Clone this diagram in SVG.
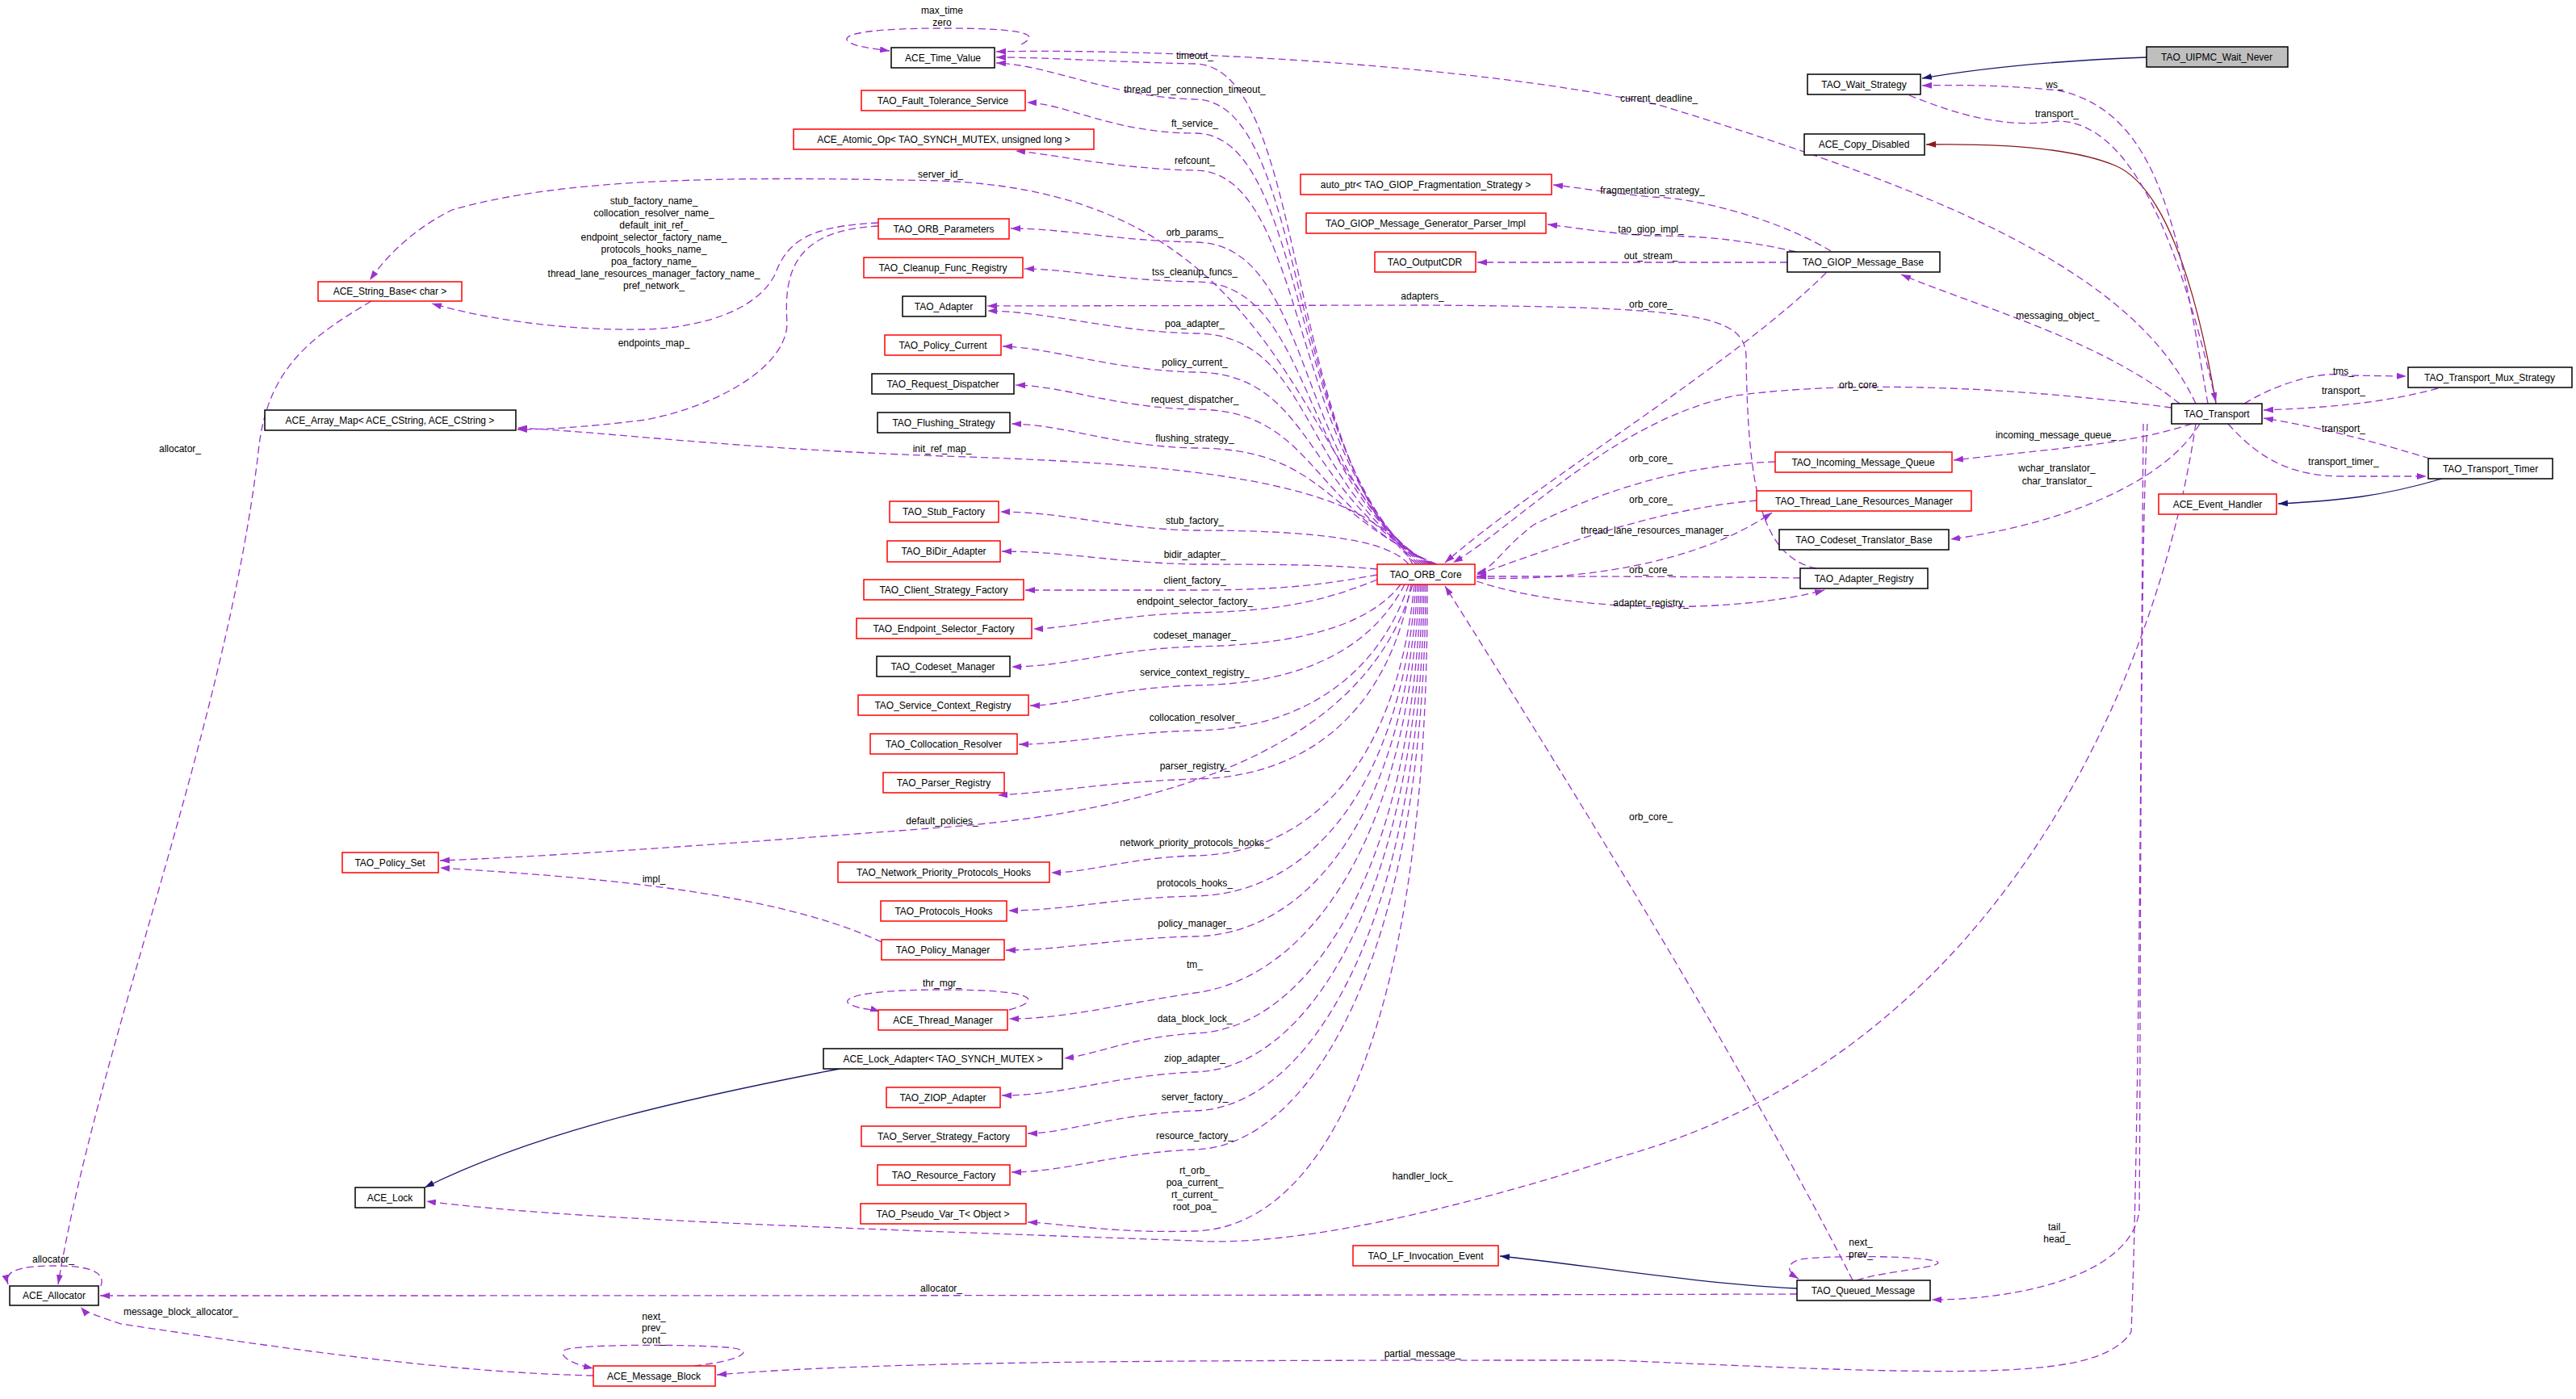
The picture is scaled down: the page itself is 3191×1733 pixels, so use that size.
<svg xmlns="http://www.w3.org/2000/svg" width="3191" height="1733" viewBox="0 0 3191 1733">
<style>
text{font-family:"Liberation Sans",Arial,sans-serif;font-size:12px;fill:#000;text-anchor:middle}
.n rect{fill:#fff;stroke-width:1.5}
.r rect{stroke:#ff0000}
.b rect{stroke:#000}
.g rect{fill:#bfbfbf;stroke:#000}
.e path{fill:none}
.d{stroke:#9a32cd;stroke-width:1.3;stroke-dasharray:9,5;marker-end:url(#ap)}
.nv{stroke:#191970;stroke-width:1.3;marker-end:url(#an)}
.dr{stroke:#8b1a1a;stroke-width:1.3;marker-end:url(#ar)}
</style>
<defs>
<marker id="ap" viewBox="0 0 12 8" refX="12" refY="4" markerWidth="12" markerHeight="8" markerUnits="userSpaceOnUse" orient="auto"><path d="M0,0 L12,4 L0,8 z" fill="#9a32cd"/></marker>
<marker id="an" viewBox="0 0 12 8" refX="12" refY="4" markerWidth="12" markerHeight="8" markerUnits="userSpaceOnUse" orient="auto"><path d="M0,0 L12,4 L0,8 z" fill="#191970"/></marker>
<marker id="ar" viewBox="0 0 12 8" refX="12" refY="4" markerWidth="12" markerHeight="8" markerUnits="userSpaceOnUse" orient="auto"><path d="M0,0 L12,4 L0,8 z" fill="#8b1a1a"/></marker>
</defs>
<rect width="3191" height="1733" fill="#fff"/>
<g id="edges" class="e">
<path class="nv" d="M2659,71 C2550,75 2450,85 2381,97"/>
<path class="dr" d="M2745,500 C2720,350 2680,230 2620,205 C2560,180 2450,178 2386,179"/>
<path class="d" d="M2735,500 C2700,300 2680,140 2550,112 C2480,105 2420,105 2381,106"/>
<path class="d" d="M2365,118 C2420,140 2480,160 2548,150 C2640,150 2700,300 2745,498"/>
<path class="d" d="M2720,500 C2650,350 2450,250 2055,130 C1800,75 1400,60 1234,64"/>
<path class="d" d="M2700,500 C2600,420 2450,380 2355,340"/>
<path class="d" d="M2780,500 C2830,470 2880,460 2903,465 L2981,466"/>
<path class="d" d="M3020,481 C2950,500 2880,505 2804,508"/>
<path class="d" d="M3010,568 C2950,550 2880,530 2804,518"/>
<path class="d" d="M2760,525 C2800,570 2840,590 2903,590 L3006,590"/>
<path class="nv" d="M3025,593 C2950,615 2900,620 2822,624"/>
<path class="d" d="M2715,525 C2640,550 2550,555 2420,570"/>
<path class="d" d="M2725,525 C2680,600 2550,650 2416,668"/>
<path class="d" d="M2690,505 C2500,480 2300,470 2150,490 C2000,520 1880,650 1800,697"/>
<path class="d" d="M2262,338 C2150,450 1900,600 1790,697"/>
<path class="d" d="M2199,572 C2100,575 2000,600 1900,650 C1860,680 1850,705 1829,710"/>
<path class="d" d="M2176,620 C2050,630 1920,680 1829,712"/>
<path class="d" d="M1829,716 C1950,720 2100,700 2195,635"/>
<path class="d" d="M2230,716 C2100,714 1950,714 1829,714"/>
<path class="d" d="M1829,720 C1950,760 2150,760 2260,731"/>
<path class="d" d="M2250,704 C2180,690 2165,600 2163,440 C2160,390 2100,380 1762,378 L1223,379"/>
<path class="d" d="M2295,1586 C2150,1300 1900,900 1790,726"/>
<path class="d" d="M2720,525 C2680,800 2500,1300 2000,1435 C1800,1500 1600,1545 1478,1537 C1000,1520 700,1510 528,1488"/>
<path class="d" d="M2660,525 C2650,700 2652,1300 2650,1500 C2640,1580 2500,1610 2393,1610"/>
<path class="d" d="M2655,525 C2652,900 2650,1400 2640,1650 C2600,1710 2450,1705 2000,1685 C1500,1685 1100,1685 888,1703"/>
<path class="d" d="M2226,1603 C1500,1605 800,1605 124,1605"/>
<path class="nv" d="M2226,1596 C2100,1590 1950,1565 1858,1556"/>
<path class="d" d="M2300,1586 C2330,1575 2410,1570 2400,1563 C2380,1555 2260,1555 2230,1560 C2210,1566 2215,1576 2228,1584"/>
<path class="d" d="M735,1704 C550,1700 350,1670 150,1640 C120,1630 105,1625 100,1619"/>
<path class="d" d="M860,1692 C920,1685 940,1672 900,1669 C850,1665 720,1665 700,1672 C690,1680 710,1690 735,1695"/>
<path class="nv" d="M1040,1324 C800,1370 650,1410 526,1471"/>
<path class="d" d="M1092,1167 C950,1100 700,1085 545,1075"/>
<path class="d" d="M125,1593 C130,1580 120,1568 70,1568 C20,1568 5,1575 10,1591"/>
<path class="d" d="M460,373 C380,420 330,460 320,560 C280,900 120,1300 72,1591"/>
<path class="d" d="M1088,276 C1000,280 975,300 960,340 C940,380 880,405 800,408 C700,410 600,395 535,376"/>
<path class="d" d="M1088,280 C990,285 970,330 975,400 C975,450 900,500 800,520 C720,530 670,532 641,532"/>
<path class="d" d="M2268,311 C2200,270 2100,245 2047,244 C2000,240 1960,233 1924,229"/>
<path class="d" d="M2225,312 C2150,295 2100,292 2045,292 C2000,290 1950,282 1917,278"/>
<path class="d" d="M2214,325 L1830,325"/>
<path class="d" d="M1265,55 C1290,42 1270,35 1167,35 C1060,35 1040,45 1052,52 C1060,58 1080,60 1102,63"/>
<path class="d" d="M1250,1251 C1290,1240 1290,1226 1167,1226 C1050,1226 1040,1240 1055,1245 C1065,1250 1080,1250 1090,1253"/>
<path class="d" d="M1755,699 C1590,560 1620,81 1480,79 C1380,77 1300,71 1234,71"/>
<path class="d" d="M1758,699 C1592,560 1620,123 1480,123 C1380,121 1300,80 1234,78"/>
<path class="d" d="M1761,699 C1594,560 1620,165 1480,165 C1380,165 1320,128 1272,127"/>
<path class="d" d="M1764,699 C1596,570 1620,211 1480,211 C1380,209 1300,190 1258,187"/>
<path class="d" d="M1767,699 C1600,580 1600,240 1165,224 C900,218 700,220 560,260 C500,290 470,330 458,347"/>
<path class="d" d="M1770,699 C1600,590 1630,300 1480,300 C1380,298 1320,283 1252,283"/>
<path class="d" d="M1772,699 C1605,600 1630,349 1480,349 C1380,347 1320,333 1269,333"/>
<path class="d" d="M1774,699 C1610,610 1630,413 1480,413 C1380,411 1300,386 1223,385"/>
<path class="d" d="M1776,699 C1615,620 1630,461 1480,461 C1380,459 1300,430 1242,429"/>
<path class="d" d="M1778,699 C1620,630 1630,507 1480,507 C1380,505 1320,478 1258,477"/>
<path class="d" d="M1780,699 C1640,640 1640,555 1480,555 C1380,553 1320,526 1253,525"/>
<path class="d" d="M1750,699 C1700,600 1500,575 1167,565 C900,555 750,535 641,530"/>
<path class="d" d="M1745,699 C1720,670 1640,657 1480,657 C1380,655 1320,634 1239,634"/>
<path class="d" d="M1706,705 C1650,700 1600,699 1480,699 C1380,697 1320,683 1241,683"/>
<path class="d" d="M1706,712 C1650,722 1600,731 1480,731 C1400,731 1320,731 1270,731"/>
<path class="d" d="M1706,718 C1650,740 1600,757 1480,759 C1380,762 1320,779 1280,779"/>
<path class="d" d="M1735,724 C1700,770 1620,799 1480,801 C1380,804 1320,826 1253,826"/>
<path class="d" d="M1740,724 C1700,800 1620,847 1480,849 C1380,852 1320,874 1276,874"/>
<path class="d" d="M1745,724 C1710,830 1620,903 1480,905 C1380,908 1320,922 1262,922"/>
<path class="d" d="M1748,724 C1720,880 1620,963 1480,965 C1380,968 1300,982 1236,985"/>
<path class="d" d="M1750,724 C1700,900 1500,1000 1167,1025 C900,1045 700,1060 545,1066"/>
<path class="d" d="M1752,724 C1730,950 1620,1058 1480,1060 C1400,1062 1350,1081 1302,1081"/>
<path class="d" d="M1754,724 C1735,980 1620,1108 1480,1110 C1380,1112 1320,1128 1249,1128"/>
<path class="d" d="M1756,724 C1740,1010 1620,1158 1480,1160 C1380,1162 1320,1177 1246,1177"/>
<path class="d" d="M1758,724 C1745,1040 1620,1212 1480,1230 C1380,1245 1320,1262 1250,1262"/>
<path class="d" d="M1760,724 C1750,1080 1620,1276 1480,1280 C1400,1285 1360,1306 1318,1311"/>
<path class="d" d="M1762,724 C1755,1110 1620,1325 1480,1328 C1380,1332 1320,1357 1241,1357"/>
<path class="d" d="M1764,724 C1760,1150 1620,1373 1480,1376 C1380,1380 1320,1404 1273,1404"/>
<path class="d" d="M1766,724 C1765,1190 1620,1421 1480,1424 C1380,1428 1320,1452 1253,1452"/>
<path class="d" d="M1768,724 C1770,1250 1650,1520 1480,1525 C1380,1528 1320,1516 1273,1514"/>
</g>
<g id="n1" class="n g"><rect x="2659" y="58" width="175" height="25"/><text x="2746" y="75">TAO_UIPMC_Wait_Never</text></g>
<g id="n2" class="n b"><rect x="2239" y="92" width="140" height="25"/><text x="2309" y="109">TAO_Wait_Strategy</text></g>
<g id="n3" class="n b"><rect x="2235" y="166" width="149" height="26"/><text x="2309" y="183">ACE_Copy_Disabled</text></g>
<g id="n4" class="n b"><rect x="1104" y="59" width="128" height="25"/><text x="1168" y="76">ACE_Time_Value</text></g>
<g id="n5" class="n r"><rect x="1067" y="112" width="203" height="25"/><text x="1168" y="129">TAO_Fault_Tolerance_Service</text></g>
<g id="n6" class="n r"><rect x="983" y="160" width="372" height="25"/><text x="1169" y="177">ACE_Atomic_Op&lt; TAO_SYNCH_MUTEX, unsigned long &gt;</text></g>
<g id="n7" class="n r"><rect x="1611" y="216" width="311" height="25"/><text x="1766" y="233">auto_ptr&lt; TAO_GIOP_Fragmentation_Strategy &gt;</text></g>
<g id="n8" class="n r"><rect x="1618" y="264" width="297" height="25"/><text x="1766" y="281">TAO_GIOP_Message_Generator_Parser_Impl</text></g>
<g id="n9" class="n r"><rect x="1703" y="312" width="125" height="25"/><text x="1765" y="329">TAO_OutputCDR</text></g>
<g id="n10" class="n b"><rect x="2214" y="312" width="189" height="25"/><text x="2308" y="329">TAO_GIOP_Message_Base</text></g>
<g id="n11" class="n r"><rect x="1088" y="271" width="162" height="25"/><text x="1169" y="288">TAO_ORB_Parameters</text></g>
<g id="n12" class="n r"><rect x="394" y="349" width="178" height="24"/><text x="483" y="365">ACE_String_Base&lt; char &gt;</text></g>
<g id="n13" class="n r"><rect x="1070" y="319" width="197" height="25"/><text x="1168" y="336">TAO_Cleanup_Func_Registry</text></g>
<g id="n14" class="n b"><rect x="1118" y="367" width="103" height="25"/><text x="1169" y="384">TAO_Adapter</text></g>
<g id="n15" class="n r"><rect x="1096" y="415" width="144" height="25"/><text x="1168" y="432">TAO_Policy_Current</text></g>
<g id="n16" class="n b"><rect x="1080" y="463" width="176" height="25"/><text x="1168" y="480">TAO_Request_Dispatcher</text></g>
<g id="n17" class="n b"><rect x="1087" y="511" width="164" height="25"/><text x="1169" y="528">TAO_Flushing_Strategy</text></g>
<g id="n18" class="n b"><rect x="328" y="508" width="311" height="25"/><text x="483" y="525">ACE_Array_Map&lt; ACE_CString, ACE_CString &gt;</text></g>
<g id="n19" class="n b"><rect x="2690" y="500" width="112" height="25"/><text x="2746" y="517">TAO_Transport</text></g>
<g id="n20" class="n b"><rect x="2983" y="455" width="203" height="25"/><text x="3084" y="472">TAO_Transport_Mux_Strategy</text></g>
<g id="n21" class="n b"><rect x="3008" y="568" width="154" height="25"/><text x="3085" y="585">TAO_Transport_Timer</text></g>
<g id="n22" class="n r"><rect x="2674" y="612" width="146" height="25"/><text x="2747" y="629">ACE_Event_Handler</text></g>
<g id="n23" class="n r"><rect x="2199" y="560" width="219" height="25"/><text x="2308" y="577">TAO_Incoming_Message_Queue</text></g>
<g id="n24" class="n r"><rect x="2176" y="608" width="266" height="25"/><text x="2309" y="625">TAO_Thread_Lane_Resources_Manager</text></g>
<g id="n25" class="n b"><rect x="2204" y="656" width="210" height="25"/><text x="2309" y="673">TAO_Codeset_Translator_Base</text></g>
<g id="n26" class="n b"><rect x="2230" y="704" width="158" height="25"/><text x="2309" y="721">TAO_Adapter_Registry</text></g>
<g id="n27" class="n r"><rect x="1102" y="621" width="135" height="26"/><text x="1169" y="638">TAO_Stub_Factory</text></g>
<g id="n28" class="n r"><rect x="1099" y="670" width="140" height="26"/><text x="1169" y="687">TAO_BiDir_Adapter</text></g>
<g id="n29" class="n r"><rect x="1070" y="718" width="198" height="25"/><text x="1169" y="735">TAO_Client_Strategy_Factory</text></g>
<g id="n30" class="n r"><rect x="1061" y="766" width="217" height="25"/><text x="1169" y="783">TAO_Endpoint_Selector_Factory</text></g>
<g id="n31" class="n b"><rect x="1086" y="813" width="165" height="25"/><text x="1168" y="830">TAO_Codeset_Manager</text></g>
<g id="n32" class="n r"><rect x="1063" y="861" width="211" height="25"/><text x="1168" y="878">TAO_Service_Context_Registry</text></g>
<g id="n33" class="n r"><rect x="1078" y="909" width="182" height="25"/><text x="1169" y="926">TAO_Collocation_Resolver</text></g>
<g id="n34" class="n r"><rect x="1094" y="957" width="150" height="25"/><text x="1169" y="974">TAO_Parser_Registry</text></g>
<g id="n35" class="n r"><rect x="1706" y="699" width="121" height="25"/><text x="1766" y="716">TAO_ORB_Core</text></g>
<g id="n36" class="n r"><rect x="424" y="1056" width="119" height="25"/><text x="483" y="1073">TAO_Policy_Set</text></g>
<g id="n37" class="n r"><rect x="1038" y="1068" width="262" height="25"/><text x="1169" y="1085">TAO_Network_Priority_Protocols_Hooks</text></g>
<g id="n38" class="n r"><rect x="1091" y="1116" width="156" height="25"/><text x="1169" y="1133">TAO_Protocols_Hooks</text></g>
<g id="n39" class="n r"><rect x="1092" y="1164" width="152" height="25"/><text x="1168" y="1181">TAO_Policy_Manager</text></g>
<g id="n40" class="n r"><rect x="1088" y="1251" width="160" height="25"/><text x="1168" y="1268">ACE_Thread_Manager</text></g>
<g id="n41" class="n b"><rect x="1020" y="1299" width="296" height="25"/><text x="1168" y="1316">ACE_Lock_Adapter&lt; TAO_SYNCH_MUTEX &gt;</text></g>
<g id="n42" class="n r"><rect x="1098" y="1347" width="141" height="25"/><text x="1168" y="1364">TAO_ZIOP_Adapter</text></g>
<g id="n43" class="n r"><rect x="1067" y="1395" width="204" height="25"/><text x="1169" y="1412">TAO_Server_Strategy_Factory</text></g>
<g id="n44" class="n r"><rect x="1087" y="1443" width="164" height="25"/><text x="1169" y="1460">TAO_Resource_Factory</text></g>
<g id="n45" class="n r"><rect x="1066" y="1491" width="205" height="25"/><text x="1168" y="1508">TAO_Pseudo_Var_T&lt; Object &gt;</text></g>
<g id="n46" class="n b"><rect x="440" y="1471" width="86" height="25"/><text x="483" y="1488">ACE_Lock</text></g>
<g id="n47" class="n r"><rect x="1676" y="1543" width="180" height="25"/><text x="1766" y="1560">TAO_LF_Invocation_Event</text></g>
<g id="n48" class="n b"><rect x="2226" y="1586" width="165" height="25"/><text x="2308" y="1603">TAO_Queued_Message</text></g>
<g id="n49" class="n b"><rect x="12" y="1593" width="110" height="24"/><text x="67" y="1609">ACE_Allocator</text></g>
<g id="n50" class="n r"><rect x="735" y="1692" width="151" height="25"/><text x="810" y="1709">ACE_Message_Block</text></g>
<g id="labels">
<text x="1167" y="17">max_time</text><text x="1167" y="32">zero</text>
<text x="1480" y="73">timeout_</text>
<text x="1480" y="115">thread_per_connection_timeout_</text>
<text x="1480" y="157">ft_service_</text>
<text x="1480" y="203">refcount_</text>
<text x="1165" y="220">server_id_</text>
<text x="810" y="253">stub_factory_name_</text><text x="810" y="268">collocation_resolver_name_</text><text x="810" y="283">default_init_ref_</text><text x="810" y="298">endpoint_selector_factory_name_</text><text x="810" y="313">protocols_hooks_name_</text><text x="810" y="328">poa_factory_name_</text><text x="810" y="343">thread_lane_resources_manager_factory_name_</text><text x="810" y="358">pref_network_</text>
<text x="810" y="429">endpoints_map_</text>
<text x="223" y="560">allocator_</text>
<text x="1480" y="292">orb_params_</text>
<text x="1480" y="341">tss_cleanup_funcs_</text>
<text x="1762" y="371">adapters_</text>
<text x="1480" y="405">poa_adapter_</text>
<text x="1480" y="453">policy_current_</text>
<text x="1480" y="499">request_dispatcher_</text>
<text x="1480" y="547">flushing_strategy_</text>
<text x="1167" y="560">init_ref_map_</text>
<text x="2047" y="240">fragmentation_strategy_</text>
<text x="2045" y="288">tao_giop_impl_</text>
<text x="2045" y="321">out_stream_</text>
<text x="2045" y="381">orb_core_</text>
<text x="2055" y="126">current_deadline_</text>
<text x="2545" y="109">ws_</text>
<text x="2548" y="145">transport_</text>
<text x="2549" y="395">messaging_object_</text>
<text x="2305" y="481">orb_core_</text>
<text x="2903" y="464">tms_</text>
<text x="2903" y="488">transport_</text>
<text x="2903" y="535">transport_</text>
<text x="2903" y="576">transport_timer_</text>
<text x="2547" y="543">incoming_message_queue_</text>
<text x="2548" y="584">wchar_translator_</text><text x="2548" y="600">char_translator_</text>
<text x="2045" y="572">orb_core_</text>
<text x="2045" y="623">orb_core_</text>
<text x="2050" y="661">thread_lane_resources_manager_</text>
<text x="2045" y="710">orb_core_</text>
<text x="2045" y="751">adapter_registry_</text>
<text x="2045" y="1016">orb_core_</text>
<text x="2548" y="1524">tail_</text><text x="2548" y="1539">head_</text>
<text x="1480" y="649">stub_factory_</text>
<text x="1480" y="691">bidir_adapter_</text>
<text x="1480" y="723">client_factory_</text>
<text x="1480" y="749">endpoint_selector_factory_</text>
<text x="1480" y="791">codeset_manager_</text>
<text x="1480" y="837">service_context_registry_</text>
<text x="1480" y="893">collocation_resolver_</text>
<text x="1480" y="953">parser_registry_</text>
<text x="1167" y="1021">default_policies_</text>
<text x="1480" y="1048">network_priority_protocols_hooks_</text>
<text x="1480" y="1098">protocols_hooks_</text>
<text x="1480" y="1148">policy_manager_</text>
<text x="810" y="1093">impl_</text>
<text x="1480" y="1199">tm_</text>
<text x="1167" y="1222">thr_mgr_</text>
<text x="1480" y="1266">data_block_lock_</text>
<text x="1480" y="1315">ziop_adapter_</text>
<text x="1480" y="1363">server_factory_</text>
<text x="1480" y="1411">resource_factory_</text>
<text x="1480" y="1454">rt_orb_</text><text x="1480" y="1469">poa_current_</text><text x="1480" y="1484">rt_current_</text><text x="1480" y="1499">root_poa_</text>
<text x="1762" y="1461">handler_lock_</text>
<text x="1166" y="1600">allocator_</text>
<text x="1762" y="1681">partial_message_</text>
<text x="66" y="1564">allocator_</text>
<text x="224" y="1629">message_block_allocator_</text>
<text x="810" y="1635">next_</text><text x="810" y="1649">prev_</text><text x="810" y="1664">cont_</text>
<text x="2305" y="1543">next_</text><text x="2305" y="1558">prev_</text>
</g>
</svg>
